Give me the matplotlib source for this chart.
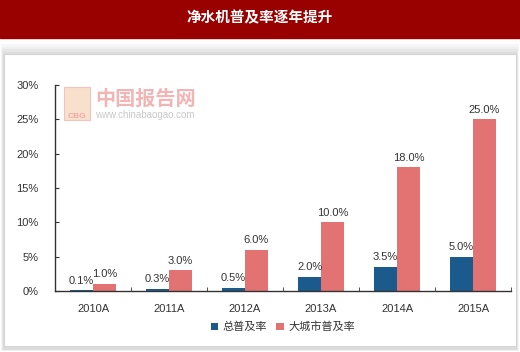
import matplotlib
matplotlib.use('Agg')
import matplotlib.pyplot as plt
from matplotlib.patches import Rectangle
import numpy as np

plt.rcParams['font.family'] = ['Liberation Sans', 'Noto Sans CJK SC', 'DejaVu Sans']

# data
years = ['2010A', '2011A', '2012A', '2013A', '2014A', '2015A']
total_rate = [0.1, 0.3, 0.5, 2.0, 3.5, 5.0]        # 总普及率 (%)
city_rate = [1.0, 3.0, 6.0, 10.0, 18.0, 25.0]      # 大城市普及率 (%)
y_ticks = [0, 5, 10, 15, 20, 25, 30]
title = '净水机普及率逐年提升'
series_names = ['总普及率', '大城市普及率']

blue = '#1b5a8c'
red = '#e37272'
text_col = '#333333'

fig = plt.figure(figsize=(5.2, 3.52), dpi=100)

# background frame: banner + shadowed card
bg = fig.add_axes([0, 0, 1, 1], zorder=-10)
bg.set_xlim(0, 520)
bg.set_ylim(352, 0)
bg.axis('off')
bg.add_patch(Rectangle((0, 0), 520, 38, color='#990000'))
for i, c in enumerate(['#f6f6f6', '#efefef', '#e6e6e6', '#dcdcdc']):
    bg.add_patch(Rectangle((1 + i * 0.6, 44 + i * 2.5), 518 - i * 1.2, 307 - i * 3,
                           facecolor=c, edgecolor='none'))
bg.add_patch(Rectangle((4, 54), 512, 292, facecolor='white', edgecolor='#d4d4d4', lw=0.8))
bg.text(260, 17, title, color='white', fontsize=10.5, fontweight='bold',
        ha='center', va='center', family=['Noto Sans CJK SC'])

# watermark
bg.add_patch(Rectangle((64, 87), 26, 33, facecolor='#f6d9c0', edgecolor='#f0b8b8', lw=0.8, alpha=0.8))
bg.text(77, 116, 'CBG', color='#f2a8a8', fontsize=6, fontweight='bold', ha='center', va='center')
bg.text(95, 98, '中国报告网', color='#f0a8a8', fontsize=14.5, fontweight='bold',
        ha='left', va='center', family=['Noto Sans CJK SC'], alpha=0.85)
bg.text(95, 115, 'www.chinabaogao.com', color='#c8c8c8', fontsize=7,
        ha='left', va='center')

ax = fig.add_axes([55 / 520, 1 - 291 / 352, (511 - 55) / 520, (291 - 85) / 352])
ax.set_facecolor('none')

x = np.arange(len(years))
w = 0.30
b1 = ax.bar(x - w / 2, total_rate, w, color=blue, label=series_names[0])
b2 = ax.bar(x + w / 2, city_rate, w, color=red, label=series_names[1])

for bars, vals in ((b1, total_rate), (b2, city_rate)):
    for b, v in zip(bars, vals):
        ax.text(b.get_x() + b.get_width() / 2, v + 0.7, f'{v:.1f}%',
                ha='center', va='bottom', fontsize=8, color=text_col)

ax.set_xlim(-0.5, len(years) - 0.5)
ax.set_ylim(0, 30)
ax.set_yticks(y_ticks)
ax.set_yticklabels([f'{t}%' for t in y_ticks], fontsize=8, color=text_col)
ax.set_xticks(x)
ax.set_xticklabels(years, fontsize=8, color=text_col)
ax.set_xticks(np.arange(len(years) + 1) - 0.5, minor=True)
ax.tick_params(axis='x', which='major', length=0, pad=9)
ax.tick_params(axis='x', which='minor', length=3, direction='in', color='#333333')
ax.tick_params(axis='y', length=3, direction='in', color='#333333', pad=12)
for s in ('top', 'right'):
    ax.spines[s].set_visible(False)
for s in ('left', 'bottom'):
    ax.spines[s].set_color('#333333')
    ax.spines[s].set_linewidth(1.0)

leg = fig.legend(handles=[b1, b2], labels=series_names, loc='center',
                 bbox_to_anchor=(283 / 520, 1 - 327 / 352), ncol=2, frameon=False,
                 fontsize=8, handlelength=0.7, handleheight=0.7, handletextpad=0.4,
                 columnspacing=0.8)
for t in leg.get_texts():
    t.set_color(text_col)
    t.set_family(['Noto Sans CJK SC'])

fig.savefig('out.png', dpi=100)
